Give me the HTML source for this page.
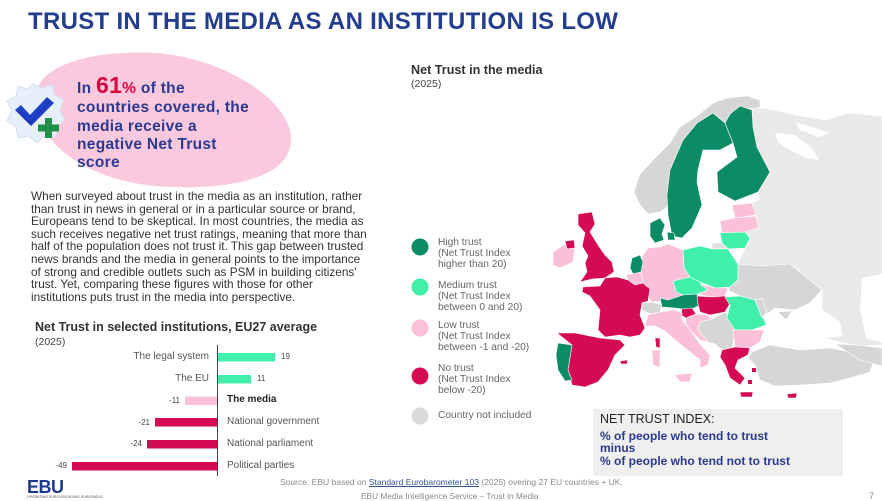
<!DOCTYPE html>
<html><head><meta charset="utf-8"><style>
*{margin:0;padding:0;box-sizing:border-box}
body{width:882px;height:500px;background:#fff;position:relative;overflow:hidden;font-family:"Liberation Sans",sans-serif;color:#333}
.a{position:absolute;white-space:nowrap}
#title{left:28px;top:8px;font-size:24px;font-weight:bold;color:#233d8f;letter-spacing:0.3px}
.hl{left:77px;font-size:15.5px;font-weight:bold;color:#2b3a8f;line-height:18px;letter-spacing:0.3px}
.hl .big{font-size:23px;color:#d6063f;line-height:18px}
.hl .pct{color:#d6063f}
#para{left:31px;top:190px;font-size:11.8px;line-height:12.6px;color:#333}
.ct{font-size:12.5px;font-weight:bold;color:#333}
.cs{font-size:10.5px;color:#444}
.bl{font-size:10px;color:#555}
.bv{font-size:8px;color:#444}
.lg{font-size:10.2px;color:#666;line-height:10.8px}
#box{left:593px;top:409px;width:250px;height:67px;background:#efefef}
.src{font-size:8.5px;color:#8a8a8a}
</style></head><body>
<svg class="a" style="left:0;top:0" width="882" height="500" viewBox="0 0 882 500">
<path d="M36,96 C38,62 100,50 155,53 C222,57 292,100 291,140 C290,178 232,189 170,187 C100,185 34,150 36,96 Z" fill="#fbc9de"/>
<path d="M33,84 L42,88 L52,85 L55,95 L64,100 L60,110 L65,120 L57,126 L56,137 L45,136 L37,143 L29,136 L18,138 L16,127 L7,121 L12,111 L7,101 L16,96 L18,86 L27,89 Z" fill="#e6effa" stroke="#d3dff2" stroke-width="1"/>
<path d="M15,110 L21,105 L30,115 L47,97 L54,103 L31,126 Z" fill="#2140c8"/>
<path d="M18,112 L30,123 L50,101" fill="none" stroke="#1a32a8" stroke-width="1"/>
<rect x="45" y="118" width="7" height="20" fill="#1f9146"/>
<rect x="38" y="124.5" width="21" height="7" fill="#1f9146"/>
<line x1="217.5" y1="345" x2="217.5" y2="476" stroke="#444" stroke-width="1"/>
<rect x="218" y="353" width="57" height="8.5" fill="#40f0aa"/>
<rect x="218" y="375" width="33" height="8.5" fill="#40f0aa"/>
<rect x="185" y="396.5" width="32" height="8.5" fill="#f9c0d8"/>
<rect x="155" y="418" width="62" height="8.5" fill="#d40a52"/>
<rect x="147" y="440" width="70" height="8.5" fill="#d40a52"/>
<rect x="72" y="462" width="145" height="8.5" fill="#d40a52"/>
<circle cx="420" cy="247" r="8.5" fill="#0c8c64"/>
<circle cx="420" cy="287" r="8.5" fill="#40f0aa"/>
<circle cx="420" cy="328" r="8.5" fill="#f9c0d8"/>
<circle cx="420" cy="376" r="8.5" fill="#d40a52"/>
<circle cx="420" cy="416" r="8.5" fill="#d9d9d9"/>
<g stroke="#fff" stroke-width="0.6" stroke-linejoin="round">
<path d="M752,107 L775,110 L800,116 L825,120 L849,113 L882,116 L882,345 L860,346 L840,342 L824,338 L842,336 L840,322 L822,310 L822,290 L790,264 L760,266 L738,264 L745,248 L750,238 L745,232 L757,228 L755,215 L752,203 L760,199 L758,192 L770,172 L757,147 L753,127 L752,110 Z" fill="#e9e9e9"/>
<path d="M775,133 L795,135 L812,148 L819,160 L805,158 L790,150 L778,142 Z" fill="#fff" stroke="none"/>
<path d="M795,122 L815,128 L830,133 L818,137 L800,130 Z" fill="#fff" stroke="none"/>
<path d="M862,278 L882,274 L882,342 L866,338 L860,310 Z" fill="#fff" stroke="none"/>
<path d="M634,192 L640,174 L653,160 L670,143 L680,127 L697,116 L713,103 L727,98 L747,96 L760,100 L760,107 L752,109 L740,107 L730,114 L725,123 L713,113 L697,123 L683,140 L672,167 L667,207 L660,212 L648,214 L640,205 Z" fill="#d6d6d6"/>
<path d="M713,113 L725,123 L733,143 L720,150 L703,150 L698,170 L697,182 L702,205 L692,228 L682,238 L672,236 L668,215 L667,195 L670,170 L683,140 L697,123 Z" fill="#0c8c64"/>
<path d="M730,114 L740,106 L752,110 L753,127 L757,147 L770,172 L758,192 L735,201 L718,192 L717,172 L737,157 L733,143 L725,123 Z" fill="#0c8c64"/>
<path d="M650,223 L660,218 L665,225 L662,234 L664,240 L655,243 L650,236 Z" fill="#0c8c64"/>
<path d="M667,232 L674,233 L675,240 L668,240 Z" fill="#0c8c64"/>
<path d="M732,205 L752,203 L756,215 L735,218 Z" fill="#f9c0d8"/>
<path d="M720,221 L735,218 L756,216 L758,228 L745,232 L722,233 Z" fill="#f9c0d8"/>
<path d="M720,233 L745,232 L750,238 L745,248 L728,249 L722,243 Z" fill="#40f0aa"/>
<path d="M712,243 L722,243 L728,249 L712,249 Z" fill="#e0e0e0"/>
<path d="M683,250 L700,246 L712,249 L728,249 L738,264 L738,280 L730,287 L715,288 L700,282 L690,277 L684,268 Z" fill="#40f0aa"/>
<path d="M648,248 L660,247 L668,244 L683,250 L684,268 L690,277 L680,285 L686,297 L668,301 L652,302 L645,295 L643,283 L640,266 L643,255 Z" fill="#f9c0d8"/>
<path d="M632,258 L640,255 L643,262 L641,272 L633,274 L630,268 Z" fill="#0c8c64"/>
<path d="M626,274 L633,274 L641,272 L643,283 L635,285 L628,280 Z" fill="#f9c0d8"/>
<path d="M583,287 L600,286 L605,278 L617,277 L628,280 L635,285 L643,283 L650,289 L648,301 L642,303 L640,315 L645,328 L640,335 L630,337 L620,335 L605,337 L598,330 L600,310 L590,296 L582,292 Z" fill="#d40a52"/>
<path d="M642,303 L652,302 L662,305 L660,312 L650,314 L642,310 Z" fill="#d6d6d6"/>
<path d="M673,281 L690,277 L700,282 L708,290 L697,294 L683,295 L676,292 Z" fill="#40f0aa"/>
<path d="M660,298 L668,300 L683,295 L697,294 L700,305 L690,310 L675,308 L662,307 Z" fill="#0c8c64"/>
<path d="M700,284 L715,288 L728,288 L725,296 L710,297 L698,294 L708,290 Z" fill="#f9c0d8"/>
<path d="M697,296 L712,297 L725,296 L732,300 L725,312 L710,315 L700,312 L698,304 Z" fill="#d40a52"/>
<path d="M682,309 L692,308 L696,314 L686,318 L681,315 Z" fill="#d40a52"/>
<path d="M648,315 L660,312 L675,310 L682,313 L682,320 L690,330 L700,344 L710,355 L708,365 L700,368 L700,360 L690,352 L675,340 L665,331 L655,326 L645,326 Z" fill="#f9c0d8"/>
<path d="M675,375 L692,373 L690,382 L680,382 Z" fill="#f9c0d8"/>
<path d="M652,350 L660,350 L660,367 L653,365 Z" fill="#f9c0d8"/>
<path d="M655,338 L660,338 L660,348 L656,347 Z" fill="#d40a52"/>
<path d="M686,318 L696,314 L707,315 L712,319 L700,322 L698,330 L708,342 L700,340 L690,330 L685,322 Z" fill="#f9c0d8"/>
<path d="M700,322 L712,319 L725,312 L732,318 L735,333 L732,348 L722,350 L715,344 L708,342 L698,330 Z" fill="#d6d6d6"/>
<path d="M738,264 L760,266 L790,264 L822,290 L810,303 L795,310 L775,308 L767,314 L762,298 L755,300 L740,296 L728,290 L730,287 L738,280 Z" fill="#d6d6d6"/>
<path d="M778,312 L792,311 L786,320 Z" fill="#d6d6d6"/>
<path d="M725,297 L740,296 L755,300 L762,313 L766,325 L752,330 L735,330 L727,318 L730,305 Z" fill="#40f0aa"/>
<path d="M755,300 L762,298 L767,312 L762,318 Z" fill="#d6d6d6"/>
<path d="M733,330 L752,330 L764,330 L760,342 L750,348 L735,347 Z" fill="#f9c0d8"/>
<path d="M722,350 L735,347 L750,348 L748,355 L738,360 L735,368 L745,378 L740,385 L730,378 L725,365 L720,357 Z" fill="#d40a52"/>
<path d="M740,392 L753,392 L752,397 L741,397 Z" fill="#d40a52"/>
<path d="M752,368 L756,368 L756,372 L752,372 Z M748,380 L752,380 L752,384 L748,384 Z" fill="#d40a52" stroke="none"/>
<path d="M752,352 L770,345 L800,350 L830,348 L855,353 L875,358 L870,372 L850,378 L830,383 L800,385 L775,386 L760,380 L755,365 L748,358 Z" fill="#d6d6d6"/>
<path d="M835,344 L855,345 L882,348 L882,366 L860,360 Z" fill="#d6d6d6"/>
<path d="M787,394 L797,393 L796,398 L788,398 Z" fill="#d40a52"/>
<path d="M557,333 L575,333 L600,338 L620,340 L625,345 L615,355 L608,370 L598,382 L585,387 L572,385 L568,370 L572,345 Z" fill="#d40a52"/>
<path d="M620,361 L628,360 L627,364 L621,364 Z" fill="#d40a52"/>
<path d="M558,343 L572,345 L568,370 L572,380 L565,381 L558,370 L556,355 Z" fill="#0c8c64"/>
<path d="M578,214 L592,212 L595,224 L590,232 L598,245 L605,255 L612,262 L614,272 L605,278 L592,279 L580,282 L587,272 L585,263 L588,256 L582,246 L585,233 L578,225 Z" fill="#d40a52"/>
<path d="M565,241 L574,240 L575,248 L567,249 Z" fill="#d40a52"/>
<path d="M553,252 L565,244 L567,249 L575,248 L573,262 L560,268 L553,265 Z" fill="#f9c0d8"/>
</g>
</svg>

<div class="a" id="title">TRUST IN THE MEDIA AS AN INSTITUTION IS LOW</div>
<div class="a hl" style="top:76px">In <span class="big">61</span><span class="pct">%</span> of the</div>
<div class="a hl" style="top:99px">countries covered, the</div>
<div class="a hl" style="top:118px">media receive a</div>
<div class="a hl" style="top:136px">negative Net Trust</div>
<div class="a hl" style="top:154px">score</div>
<div class="a" id="para">When surveyed about trust in the media as an institution, rather<br>than trust in news in general or in a particular source or brand,<br>Europeans tend to be skeptical. In most countries, the media as<br>such receives negative net trust ratings, meaning that more than<br>half of the population does not trust it. This gap between trusted<br>news brands and the media in general points to the importance<br>of strong and credible outlets such as PSM in building citizens'<br>trust. Yet, comparing these figures with those for other<br>institutions puts trust in the media into perspective.</div>

<div class="a ct" style="left:35px;top:320px">Net Trust in selected institutions, EU27 average</div>
<div class="a cs" style="left:35px;top:336px">(2025)</div>

<div class="a bl" style="right:673px;top:351px">The legal system</div>
<div class="a bl" style="right:673px;top:373px">The EU</div>
<div class="a bl" style="left:227px;top:394px;font-weight:bold;color:#222">The media</div>
<div class="a bl" style="left:227px;top:416px">National government</div>
<div class="a bl" style="left:227px;top:438px">National parliament</div>
<div class="a bl" style="left:227px;top:460px">Political parties</div>
<div class="a bv" style="left:281px;top:352px">19</div>
<div class="a bv" style="left:257px;top:374px">11</div>
<div class="a bv" style="right:702px;top:396px">-11</div>
<div class="a bv" style="right:732px;top:418px">-21</div>
<div class="a bv" style="right:740px;top:439px">-24</div>
<div class="a bv" style="right:815px;top:461px">-49</div>

<div class="a" style="left:411px;top:63px;font-size:12.6px;font-weight:bold;color:#333">Net Trust in the media</div>
<div class="a" style="left:411px;top:78px;font-size:10.5px;color:#444">(2025)</div>

<div class="a lg" style="left:438px;top:238px">High trust<br>(Net Trust Index<br>higher than 20)</div>
<div class="a lg" style="left:438px;top:281px">Medium trust<br>(Net Trust Index<br>between 0 and 20)</div>
<div class="a lg" style="left:438px;top:321px">Low trust<br>(Net Trust Index<br>between -1 and -20)</div>
<div class="a lg" style="left:438px;top:364px">No trust<br>(Net Trust Index<br>below -20)</div>
<div class="a lg" style="left:438px;top:411px">Country not included</div>

<div class="a" id="box"></div>
<div class="a" style="left:600px;top:412px;font-size:12.5px;color:#222">NET TRUST INDEX:</div>
<div class="a" style="left:600px;top:430px;font-size:12px;font-weight:bold;color:#2b3a8f;line-height:12.3px">% of people who tend to trust<br>minus<br>% of people who tend not to trust</div>

<div class="a" style="left:27px;top:477px;font-size:18px;font-weight:bold;color:#1e3a8c;letter-spacing:-0.5px">EBU</div>
<div class="a" style="left:27px;top:495px;font-size:3.6px;color:#555">OPERATING EUROVISION AND EURORADIO</div>
<div class="a src" style="left:280px;top:477px">Source: EBU based on <span style="color:#2f5597;text-decoration:underline">Standard Eurobarometer 103</span> (2025) overing 27 EU countries + UK.</div>
<div class="a src" style="left:361px;top:491px;font-size:8.3px">EBU Media Intelligence Service – Trust in Media</div>
<div class="a src" style="left:869px;top:491px;font-size:9px">7</div>
</body></html>
